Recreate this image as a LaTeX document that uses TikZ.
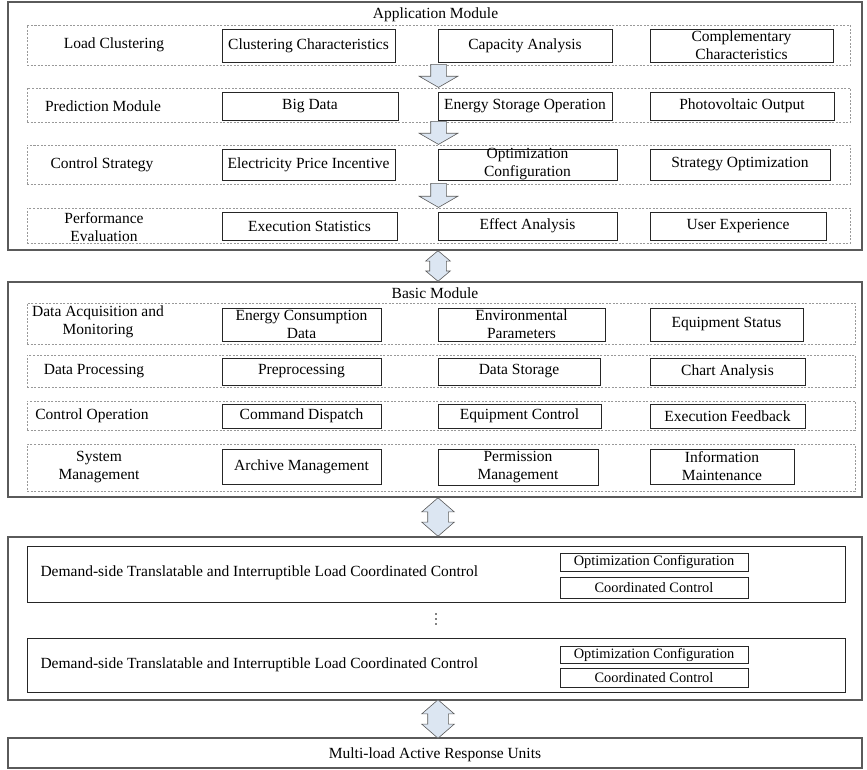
\documentclass[tikz,border=0pt]{standalone}
\usepackage{fontspec}
\setmainfont{Liberation Serif}
\usepackage{tikz}
\usetikzlibrary{fit,calc,shapes.arrows}

\definecolor{arrowfill}{HTML}{DCE6F2}
\definecolor{modline}{HTML}{5A5A5A}

\tikzset{
  module/.style={draw=modline, line width=1.3pt, inner sep=0pt},
  group/.style={draw=black!40, line width=0.5pt, dash pattern=on 2pt off 1.5pt, inner sep=0pt},
  cell/.style={draw=black!85, line width=0.9pt, inner sep=0pt,
    label={[align=center]center:#1}},
  subcell/.style={draw=black!85, line width=0.9pt, inner sep=0pt,
    label={[font=\fontsize{14.4}{16}\selectfont]center:#1}},
  rowname/.style={align=center, inner sep=0pt},
  flowdown/.style={single arrow, shape border rotate=270, draw=modline, fill=arrowfill,
    line width=0.6pt, inner sep=7.5pt, single arrow head extend=11.5pt,
    single arrow tip angle=120, minimum height=23pt},
  link/.style={double arrow, shape border rotate=90, draw=modline, fill=arrowfill,
    line width=0.6pt, inner sep=8pt, double arrow head extend=4pt,
    double arrow tip angle=100, minimum height=30pt},
  biglink/.style={link, inner sep=10pt, double arrow head extend=6pt,
    double arrow tip angle=98, minimum height=35pt}
}

\begin{document}
\begin{tikzpicture}[x=1pt, y=-1pt, font=\fontsize{15.5}{18}\selectfont]
\useasboundingbox (0,0) rectangle (867,769);

% application module
\node (app) [module, fit={(8,2) (862,250)}] {};
\node (appname) at (435.5,15) {Application Module};

\node (a1) [group, fit={(27,25) (850,65)}] {};
\node (a2) [group, fit={(27,88) (850,122)}] {};
\node (a3) [group, fit={(27,145) (850,184)}] {};
\node (a4) [group, fit={(27,208) (850,243)}] {};

\node (a1n) [rowname] at (114,45) {Load Clustering};
\node (a2n) [rowname] at (103,106) {Prediction Module};
\node (a3n) [rowname] at (102,165) {Control Strategy};
\node (a4n) [rowname] at (104,227) {Performance\\Evaluation};

\node (a11) [cell={Clustering Characteristics}, fit={(222,29) (395,62)}] {};
\node (a12) [cell={Capacity Analysis}, fit={(438,29) (612,62)}] {};
\node (a13) [cell={Complementary\\Characteristics}, fit={(650,29) (833,62)}] {};
\node (a21) [cell={Big Data}, fit={(222,92) (398,120)}] {};
\node (a22) [cell={Energy Storage Operation}, fit={(438,92) (612,120)}] {};
\node (a23) [cell={Photovoltaic Output}, fit={(650,92) (834,120)}] {};
\node (a31) [cell={Electricity Price Incentive}, fit={(222,149) (395,180)}] {};
\node (a32) [cell={Optimization\\Configuration}, fit={(438,149) (617,180)}] {};
\node (a33) [cell={Strategy Optimization}, fit={(650,149) (830,180)}] {};
\node (a41) [cell={Execution Statistics}, fit={(222,212) (397,240)}] {};
\node (a42) [cell={Effect Analysis}, fit={(438,212) (617,240)}] {};
\node (a43) [cell={User Experience}, fit={(650,212) (826,240)}] {};

\node (s1) [flowdown, anchor=tip] at (a2.north) {};
\node (s2) [flowdown, anchor=tip] at (a3.north) {};
\node (s3) [flowdown, anchor=tip, minimum height=24pt] at (a4.north) {};

% basic module
\node (basic) [module, fit={(8,282) (862,497)}] {};
\node (basicname) at (435,293) {Basic Module};

\node (b1) [group, fit={(27,303) (855,344)}] {};
\node (b2) [group, fit={(27,355) (855,387)}] {};
\node (b3) [group, fit={(27,401) (855,430)}] {};
\node (b4) [group, fit={(27,444) (855,491)}] {};

\node (b1n) [rowname] at (98,322) {Data Acquisition and\\Monitoring};
\node (b2n) [rowname] at (94,371) {Data Processing};
\node (b3n) [rowname] at (92,416) {Control Operation};
\node (b4n) [rowname] at (99,467) {System\\Management};

\node (b11) [cell={Energy Consumption\\Data}, fit={(222,308) (381,341)}] {};
\node (b12) [cell={Environmental\\Parameters}, fit={(438,308) (605,341)}] {};
\node (b13) [cell={Equipment Status}, fit={(650,308) (803,341)}] {};
\node (b21) [cell={Preprocessing}, fit={(222,358) (381,385)}] {};
\node (b22) [cell={Data Storage}, fit={(438,358) (600,385)}] {};
\node (b23) [cell={Chart Analysis}, fit={(650,358) (805,385)}] {};
\node (b31) [cell={Command Dispatch}, fit={(222,404) (381,428)}] {};
\node (b32) [cell={Equipment Control}, fit={(438,404) (601,428)}] {};
\node (b33) [cell={Execution Feedback}, fit={(650,404) (805,428)}] {};
\node (b41) [cell={Archive Management}, fit={(222,449) (381,484)}] {};
\node (b42) [cell={Permission\\Management}, fit={(438,449) (598,485)}] {};
\node (b43) [cell={Information\\Maintenance}, fit={(650,449) (794,484)}] {};

\node (l1) [link, xshift=3pt] at ($(app.south)!.5!(basic.north)$) {};

% coordinated control
\node (ctrl) [module, fit={(8,537) (862,700)}] {};
\node (c1) [draw=black!85, line width=0.9pt, inner sep=0pt, fit={(27,546) (845,602)}] {};
\node (c2) [draw=black!85, line width=0.9pt, inner sep=0pt, fit={(27,638) (845,692)}] {};
\node (c1name) [anchor=west] at (37,573) {Demand-side Translatable and Interruptible Load Coordinated Control};
\node (c2name) [anchor=west] at (37,665) {Demand-side Translatable and Interruptible Load Coordinated Control};
\node (c1a) [subcell={Optimization Configuration}, fit={(560,553) (748,571)}] {};
\node (c1b) [subcell={Coordinated Control}, fit={(560,577) (748,598)}] {};
\node (c2a) [subcell={Optimization Configuration}, fit={(560,646) (748,663)}] {};
\node (c2b) [subcell={Coordinated Control}, fit={(560,668) (748,687)}] {};
\coordinate (more) at (436,619);
\fill[black] (more) ++(0,-5) circle (0.9pt) (more) circle (0.9pt) (more) ++(0,5) circle (0.9pt);

\node (l2) [biglink, xshift=3pt] at ($(basic.south)!.5!(ctrl.north)$) {};

% response units
\node (units) [module, fit={(8,738) (862,768)}] {};
\node (unitsname) at (435,755) {Multi-load Active Response Units};

\node (l3) [biglink, xshift=3pt] at ($(ctrl.south)!.5!(units.north)$) {};

\end{tikzpicture}
\end{document}
